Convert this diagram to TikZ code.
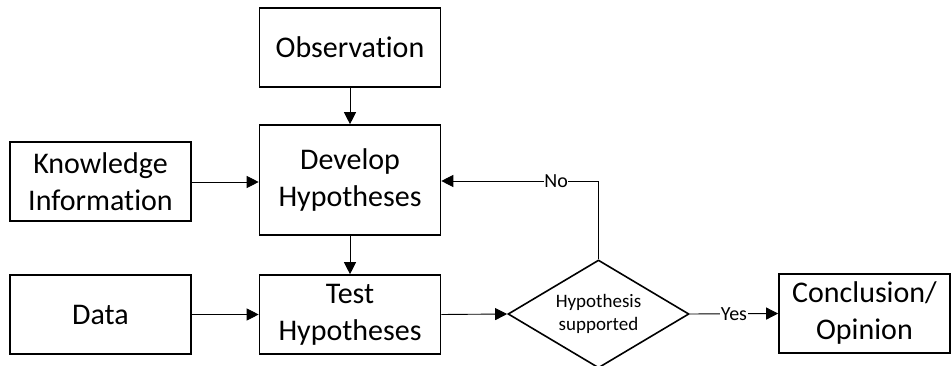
\documentclass[tikz,border=0pt]{standalone}
\usepackage{fontspec}
\setmainfont{Carlito}[Ligatures=NoCommon]
\usetikzlibrary{arrows.meta,shapes.geometric}
\begin{document}
\begin{tikzpicture}[x=1pt,y=-1pt,
  box/.style={draw,line width=1.6pt,minimum width=181pt,minimum height=79pt,align=center,font=\fontsize{30}{37}\selectfont,inner sep=0pt},
  conn/.style={line width=0.9pt,-{Triangle[length=12pt,width=12pt]}},
  lbl/.style={font=\fontsize{20}{22}\selectfont,fill=white,inner sep=0.5pt}]
\useasboundingbox (0,0) rectangle (951,366);
\node[box] (obs) at (350,47.5) {Observation};
\node[box,minimum height=110pt] (dev) at (350,180) {Develop\\Hypotheses};
\node[box] (kno) at (100.5,181.5) {Knowledge\\Information};
\node[box] (dat) at (100.5,314.5) {Data};
\node[box] (tst) at (350,314.5) {Test\\Hypotheses};
\node[draw,diamond,line width=1.6pt,minimum width=181pt,minimum height=108pt,inner sep=0pt,aspect=1.676,align=center,font=\fontsize{19}{23}\selectfont] (dia) at (598.5,314) {Hypothesis\\supported};
\node[box,minimum width=171pt] (con) at (864.5,313.5) {Conclusion/\\Opinion};
\coordinate (corner) at (dia.north |- 0,181);
\draw[conn] (obs.south) -- (dev.north);
\draw[conn] (dev.south) -- (tst.north);
\draw[conn] (kno.east |- 0,182) -- (dev.west |- 0,182);
\draw[conn] (dat.east) -- (tst.west);
\draw[conn] (tst.east) -- (dia.west);
\draw[conn] (dia.north) -- (corner) -- node[lbl,pos=0.27]{No} (dev.east |- corner);
\draw[conn] (dia.east) -- node[lbl,pos=0.5]{Yes} (con.west);
\end{tikzpicture}
\end{document}
